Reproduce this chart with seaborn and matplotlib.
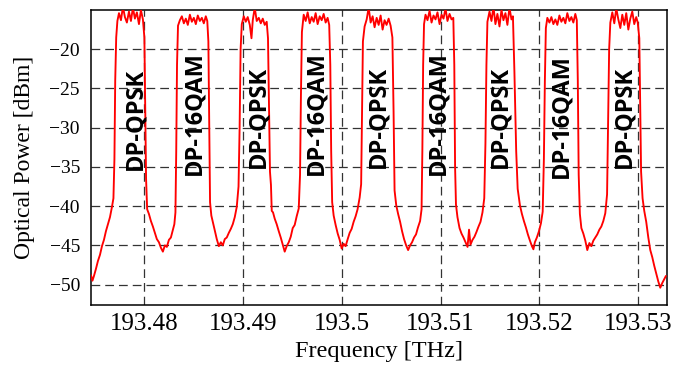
import matplotlib
matplotlib.use("Agg")
import matplotlib.pyplot as plt
import pandas as pd
import seaborn as sns

# Spectrum trace (frequency in THz, power in dBm)
freq_thz = [
    193.47465, 193.47480, 193.47495, 193.47515, 193.47535, 193.47556, 193.47576, 193.47596,
    193.47616, 193.47636, 193.47657, 193.47677, 193.47692, 193.47702, 193.47710, 193.47720,
    193.47732, 193.47748, 193.47768, 193.47788, 193.47808, 193.47828, 193.47849, 193.47869,
    193.47889, 193.47909, 193.47929, 193.47950, 193.47970, 193.47990, 193.48005, 193.48013,
    193.48022, 193.48033, 193.48051, 193.48071, 193.48091, 193.48111, 193.48131, 193.48152,
    193.48172, 193.48192, 193.48212, 193.48232, 193.48253, 193.48273, 193.48293, 193.48308,
    193.48319, 193.48327, 193.48335, 193.48345, 193.48364, 193.48384, 193.48404, 193.48424,
    193.48444, 193.48465, 193.48485, 193.48505, 193.48525, 193.48545, 193.48566, 193.48586,
    193.48606, 193.48626, 193.48641, 193.48652, 193.48661, 193.48669, 193.48682, 193.48697,
    193.48717, 193.48737, 193.48758, 193.48778, 193.48798, 193.48818, 193.48838, 193.48859,
    193.48879, 193.48899, 193.48919, 193.48939, 193.48957, 193.48968, 193.48978, 193.48990,
    193.49010, 193.49030, 193.49050, 193.49071, 193.49088, 193.49101, 193.49121, 193.49141,
    193.49162, 193.49182, 193.49202, 193.49222, 193.49242, 193.49255, 193.49266, 193.49275,
    193.49285, 193.49293, 193.49306, 193.49323, 193.49343, 193.49364, 193.49384, 193.49404,
    193.49424, 193.49444, 193.49465, 193.49485, 193.49505, 193.49525, 193.49545, 193.49566,
    193.49579, 193.49588, 193.49598, 193.49616, 193.49636, 193.49656, 193.49677, 193.49697,
    193.49717, 193.49737, 193.49757, 193.49778, 193.49798, 193.49818, 193.49838, 193.49858,
    193.49874, 193.49885, 193.49894, 193.49904, 193.49919, 193.49939, 193.49960, 193.49980,
    193.50000, 193.50020, 193.50040, 193.50061, 193.50081, 193.50101, 193.50121, 193.50141,
    193.50161, 193.50182, 193.50197, 193.50206, 193.50215, 193.50232, 193.50253, 193.50273,
    193.50293, 193.50313, 193.50333, 193.50354, 193.50374, 193.50394, 193.50414, 193.50434,
    193.50454, 193.50475, 193.50495, 193.50513, 193.50525, 193.50535, 193.50552, 193.50571,
    193.50591, 193.50611, 193.50631, 193.50652, 193.50672, 193.50692, 193.50712, 193.50732,
    193.50752, 193.50772, 193.50793, 193.50808, 193.50816, 193.50824, 193.50833, 193.50848,
    193.50868, 193.50889, 193.50909, 193.50929, 193.50949, 193.50969, 193.50990, 193.51010,
    193.51030, 193.51050, 193.51070, 193.51091, 193.51111, 193.51129, 193.51139, 193.51147,
    193.51156, 193.51171, 193.51192, 193.51212, 193.51232, 193.51253, 193.51273, 193.51288,
    193.51303, 193.51323, 193.51343, 193.51363, 193.51384, 193.51404, 193.51424, 193.51442,
    193.51454, 193.51464, 193.51474, 193.51495, 193.51515, 193.51535, 193.51555, 193.51575,
    193.51596, 193.51616, 193.51636, 193.51656, 193.51676, 193.51697, 193.51717, 193.51732,
    193.51747, 193.51765, 193.51780, 193.51803, 193.51823, 193.51843, 193.51863, 193.51883,
    193.51904, 193.51924, 193.51939, 193.51954, 193.51974, 193.51995, 193.52015, 193.52033,
    193.52045, 193.52055, 193.52065, 193.52080, 193.52101, 193.52121, 193.52141, 193.52161,
    193.52181, 193.52202, 193.52222, 193.52242, 193.52262, 193.52282, 193.52303, 193.52323,
    193.52343, 193.52363, 193.52378, 193.52388, 193.52397, 193.52409, 193.52424, 193.52444,
    193.52464, 193.52484, 193.52505, 193.52525, 193.52545, 193.52565, 193.52585, 193.52606,
    193.52626, 193.52646, 193.52666, 193.52684, 193.52694, 193.52705, 193.52717, 193.52737,
    193.52757, 193.52777, 193.52798, 193.52818, 193.52838, 193.52858, 193.52878, 193.52899,
    193.52919, 193.52939, 193.52959, 193.52979, 193.52994, 193.53010, 193.53020, 193.53028,
    193.53043, 193.53060, 193.53080, 193.53101, 193.53121, 193.53141, 193.53161, 193.53181,
    193.53202, 193.53222, 193.53242, 193.53262, 193.53279,
]
power_dbm = [
    -48.8, -49.5, -48.9, -48.0, -47.0, -46.2, -45.1, -44.3,
    -43.2, -42.3, -41.4, -40.1, -39.0, -34.0, -24.0, -18.5,
    -16.4, -15.4, -16.3, -14.6, -15.9, -16.6, -15.2, -16.4,
    -14.7, -16.1, -15.3, -16.8, -15.0, -16.2, -18.5, -27.0,
    -36.5, -40.4, -41.0, -41.9, -42.6, -43.4, -44.2, -44.6,
    -45.3, -45.8, -45.0, -45.2, -44.3, -44.0, -43.0, -42.3,
    -40.8, -33.0, -22.0, -17.0, -16.3, -15.8, -16.7, -16.1,
    -16.9, -15.6, -16.5, -16.0, -16.8, -15.7, -16.4, -16.0,
    -16.7, -15.8, -16.4, -19.0, -30.0, -39.5, -41.2, -42.0,
    -43.1, -44.2, -45.1, -44.6, -45.0, -44.2, -44.0, -43.4,
    -42.9, -42.3, -41.4, -40.1, -37.5, -30.0, -20.0, -16.8,
    -15.8, -16.5, -15.9, -16.9, -18.6, -16.3, -14.7, -16.4,
    -16.0, -16.7, -16.1, -16.9, -16.5, -18.6, -28.0, -35.6,
    -37.3, -40.6, -40.8, -41.6, -42.3, -43.2, -44.0, -44.9,
    -45.8, -45.1, -44.6, -43.9, -42.8, -42.4, -41.3, -40.3,
    -36.0, -26.0, -17.8, -15.6, -16.4, -15.3, -16.7, -15.9,
    -16.5, -15.4, -16.8, -15.8, -16.3, -15.5, -16.6, -16.0,
    -16.9, -22.0, -33.0, -39.5, -41.2, -42.4, -43.5, -44.3,
    -45.4, -44.8, -45.1, -44.2, -43.4, -42.9, -42.0, -41.3,
    -40.4, -38.9, -37.2, -28.0, -19.0, -17.1, -16.2, -14.7,
    -16.6, -15.8, -17.2, -16.0, -16.9, -15.7, -17.5, -16.3,
    -16.9, -16.1, -17.0, -18.5, -28.0, -38.0, -39.9, -41.0,
    -42.0, -43.2, -44.2, -45.0, -45.6, -45.0, -44.6, -44.0,
    -43.6, -42.7, -41.9, -40.4, -33.0, -22.0, -16.8, -15.6,
    -16.3, -15.1, -16.6, -15.7, -16.2, -15.3, -16.8, -15.6,
    -16.1, -14.8, -16.4, -15.5, -16.2, -16.0, -22.0, -35.0,
    -39.8, -41.4, -42.8, -43.5, -44.0, -44.6, -45.2, -43.0,
    -44.9, -44.3, -43.9, -43.3, -42.6, -42.0, -40.8, -39.0,
    -32.0, -22.0, -16.5, -15.2, -16.4, -14.6, -16.8, -15.5,
    -17.1, -15.0, -16.3, -15.4, -16.9, -14.7, -16.2, -15.8,
    -22.9, -33.0, -37.8, -39.9, -41.0, -41.9, -42.7, -43.6,
    -44.4, -45.1, -45.5, -44.6, -44.0, -43.2, -42.2, -40.7,
    -34.0, -24.0, -17.3, -16.0, -16.6, -15.9, -16.8, -16.2,
    -16.9, -15.7, -16.5, -16.0, -16.7, -15.4, -16.4, -15.9,
    -16.6, -15.5, -16.3, -24.0, -36.0, -41.0, -42.8, -43.5,
    -44.4, -45.6, -44.7, -45.1, -44.4, -44.0, -43.6, -43.0,
    -42.6, -41.9, -40.9, -38.5, -30.0, -20.0, -16.6, -15.3,
    -16.7, -14.8, -16.2, -17.3, -15.6, -16.9, -15.4, -17.5,
    -16.1, -15.2, -16.8, -15.9, -16.6, -18.6, -28.0, -35.6,
    -39.0, -40.6, -42.0, -44.0, -45.6, -46.5, -47.6, -48.6,
    -49.6, -50.4, -49.8, -49.3, -48.9,
]

# Channel annotations
label_text = ["DP-QPSK", "DP-16QAM", "DP-QPSK", "DP-16QAM", "DP-QPSK",
              "DP-16QAM", "DP-QPSK", "DP-16QAM", "DP-QPSK"]
label_freq = [193.47909, 193.48515, 193.49158, 193.49744, 193.50374,
              193.50975, 193.51606, 193.52217, 193.52858]
label_power = [-35.4, -36.0, -35.1, -36.0, -35.1, -36.0, -35.1, -36.4, -35.1]

x_ticks = [193.48, 193.49, 193.50, 193.51, 193.52, 193.53]
x_tick_labels = ["193.48", "193.49", "193.5", "193.51", "193.52", "193.53"]
y_ticks = [-20, -25, -30, -35, -40, -45, -50]

df = pd.DataFrame({"freq": freq_thz, "power": power_dbm})

sns.set_theme(style="white")
plt.rcParams["font.family"] = ["Liberation Serif", "DejaVu Serif"]

fig = plt.figure(figsize=(6.75, 3.65), dpi=100)
ax = fig.add_axes([0.1348, 0.1644, 0.8529, 0.8082])

# dashed grid at the tick positions
for xt in x_ticks:
    ax.axvline(xt, color="#333333", lw=0.9, dashes=(7, 4), zorder=1)
for yt in y_ticks:
    ax.axhline(yt, color="#333333", lw=0.9, dashes=(7, 4), zorder=1)

sns.lineplot(data=df, x="freq", y="power", sort=False, estimator=None,
             color="#ff0000", lw=1.35, ax=ax, zorder=3)

for txt, fx, py in zip(label_text, label_freq, label_power):
    ax.text(fx, py, txt, rotation=90, ha="center", va="bottom",
            fontsize=17, fontweight="bold", family=["Open Sans", "DejaVu Sans"],
            color="black", zorder=4)

ax.set_xlim(193.47465, 193.53287)
ax.set_ylim(-52.6, -15.0)
ax.set_xticks(x_ticks)
ax.set_xticklabels(x_tick_labels)
ax.set_yticks(y_ticks)
ax.tick_params(axis="x", direction="in", length=6, width=0.9, labelsize=18, pad=6, colors="black")
ax.tick_params(axis="y", direction="in", length=6, width=0.9, labelsize=14, pad=8, colors="black")
for sp in ax.spines.values():
    sp.set_color("black")
    sp.set_linewidth(1.1)

ax.set_xlabel("Frequency [THz]", fontsize=17.5, labelpad=4, color="black")
ax.set_ylabel("Optical Power [dBm]", fontsize=17, labelpad=10, color="black")

fig.savefig("out.png", dpi=100)
